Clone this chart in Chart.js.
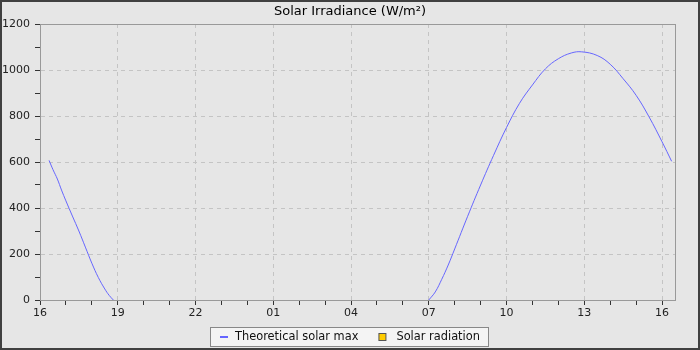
<!DOCTYPE html>
<html>
<head>
<meta charset="utf-8">
<script src="https://cdn.jsdelivr.net/npm/chart.js@4.4.0/dist/chart.umd.min.js"></script>
<style>
  html, body { margin: 0; padding: 0; background: #e6e6e6; }
  #wrap { width: 700px; height: 350px; }
</style>
</head>
<body>
<div id="wrap"><canvas id="chart" width="700" height="350"></canvas></div>
<script>
// hours counted from midnight of the first day (25 = 01:00 next day)
const maxHours = [16.35, 16.5, 16.67, 16.83, 17, 17.25, 17.5, 17.75, 18, 18.25, 18.5, 18.67, 18.83,
  25,
  31, 31.25, 31.5, 31.75, 32, 32.5, 33, 33.5, 34, 34.5, 35, 35.5, 36, 36.5, 36.9,
  37.5, 38, 38.5, 39, 39.5, 40, 40.37];
const maxValues = [607, 567, 526, 478, 431, 365, 300, 230, 160, 98, 48, 20, 0,
  null,
  0, 35, 90, 152, 222, 364, 500, 629, 750, 855, 935, 1005, 1049, 1074, 1079,
  1063, 1025, 962, 890, 796, 688, 603];
const radiationHours = [];
const radiationValues = [];

const seriesNames = ['Theoretical solar max', 'Solar radiation'];
const xMin = 16, xMax = 40.5, xStep = 3;
const yMin = 0, yMax = 1200, yStep = 200;

const gridColor = '#c4c4c4';
const tickColor = '#333';
const maxColor = '#6666ff';
const radiationColor = '#ffcc00';

Chart.defaults.font.family = 'DejaVu Sans';
Chart.defaults.font.size = 11;
Chart.defaults.color = '#222';

const frame = {
  id: 'frame',
  beforeDraw(chart) {
    const ctx = chart.ctx;
    ctx.save();
    ctx.fillStyle = '#e6e6e6';
    ctx.fillRect(0, 0, chart.width, chart.height);
    ctx.restore();
  },
  beforeDatasetsDraw(chart) {
    const { ctx, chartArea: a } = chart;
    ctx.save();
    ctx.strokeStyle = '#999';
    ctx.lineWidth = 1;
    ctx.strokeRect(Math.round(a.left) + 0.5, Math.round(a.top) + 0.5,
      Math.round(a.right - a.left), Math.round(a.bottom - a.top));
    ctx.restore();
  },
  afterDraw(chart) {
    const ctx = chart.ctx;
    ctx.save();
    // legend box under the x axis
    ctx.font = '11.4px "DejaVu Sans"';
    const w1 = ctx.measureText(seriesNames[0]).width;
    const w2 = ctx.measureText(seriesNames[1]).width;
    const total = 8 + 7 + w1 + 20 + 7 + 11 + w2;
    let x = Math.round(chart.width / 2 - total / 2);
    const cy = 337;
    const l = x - 10 + 0.5, r = Math.round(x + total + 8) + 0.5;
    ctx.fillStyle = '#f4f4f4';
    ctx.fillRect(l, 327.5, r - l, 19);
    ctx.strokeStyle = '#888';
    ctx.lineWidth = 1;
    ctx.strokeRect(l, 327.5, r - l, 19);

    ctx.strokeStyle = maxColor;
    ctx.lineWidth = 2;
    ctx.beginPath();
    ctx.moveTo(x, cy);
    ctx.lineTo(x + 8, cy);
    ctx.stroke();
    ctx.fillStyle = '#111';
    ctx.textBaseline = 'middle';
    ctx.fillText(seriesNames[0], x + 15, cy);
    x += 15 + w1 + 20;
    ctx.fillStyle = radiationColor;
    ctx.fillRect(x + 0.5, cy - 3.5, 7, 7);
    ctx.strokeStyle = '#555';
    ctx.lineWidth = 1;
    ctx.strokeRect(x + 0.5, cy - 3.5, 7, 7);
    ctx.fillStyle = '#111';
    ctx.fillText(seriesNames[1], x + 18, cy);

    ctx.strokeStyle = '#404040';
    ctx.lineWidth = 2;
    ctx.strokeRect(1, 1, chart.width - 2, chart.height - 2);
    ctx.restore();
  }
};

new Chart(document.getElementById('chart'), {
  type: 'line',
  data: {
    datasets: [{
      label: seriesNames[0],
      data: maxHours.map((h, i) => ({ x: h, y: maxValues[i] })),
      borderColor: maxColor,
      borderWidth: 1,
      pointRadius: 0,
      tension: 0.4,
      spanGaps: false
    }, {
      label: seriesNames[1],
      data: radiationHours.map((h, i) => ({ x: h, y: radiationValues[i] })),
      borderColor: '#555',
      backgroundColor: radiationColor,
      pointRadius: 0
    }]
  },
  options: {
    responsive: false,
    animation: false,
    layout: { padding: { top: 2, left: 0, right: 0, bottom: 30 } },
    plugins: {
      title: {
        display: true,
        text: 'Solar Irradiance (W/m²)',
        color: '#000',
        font: { size: 13, weight: 'normal' },
        padding: { top: 2.2, bottom: 4.2 }
      },
      legend: { display: false },
      tooltip: { enabled: false }
    },
    scales: {
      x: {
        type: 'linear',
        min: xMin,
        max: xMax,
        afterFit: s => { s.height = 20; },
        border: { display: true, color: '#999', dash: [4, 4] },
        grid: {
          color: c => c.tick && (c.tick.value - xMin) % xStep === 0 ? gridColor : 'rgba(0,0,0,0)',
          tickColor: tickColor,
          tickLength: 5,
          tickBorderDash: []
        },
        ticks: {
          stepSize: 1,
          autoSkip: false,
          includeBounds: false,
          maxRotation: 0,
          padding: 2,
          color: '#222',
          callback: v => (v - xMin) % xStep === 0 ? String(v % 24).padStart(2, '0') : ''
        }
      },
      y: {
        min: yMin,
        max: yMax,
        afterFit: s => { s.width = 40; },
        border: { display: true, color: '#999', dash: [4, 4] },
        grid: {
          color: c => c.tick && c.tick.value % yStep === 0 ? gridColor : 'rgba(0,0,0,0)',
          tickColor: tickColor,
          tickLength: 5,
          tickBorderDash: []
        },
        ticks: {
          stepSize: 100,
          autoSkip: false,
          padding: 5,
          color: '#222',
          callback: v => v % yStep === 0 ? String(v) : ''
        }
      },
      // empty right-hand spacer so the plot ends at the same place as the reference
      yRight: {
        position: 'right',
        min: yMin,
        max: yMax,
        afterFit: s => { s.width = 25; },
        border: { display: false },
        grid: { display: false },
        ticks: { display: false }
      }
    }
  },
  plugins: [frame]
});
</script>
</body>
</html>
